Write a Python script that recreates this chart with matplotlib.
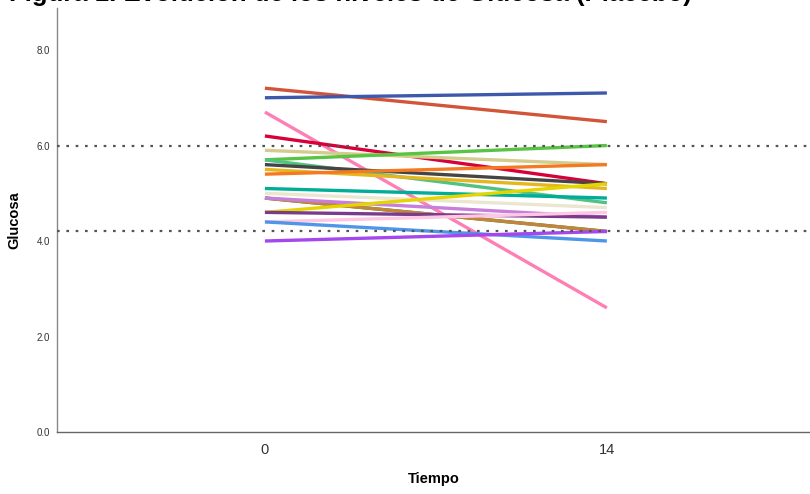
import matplotlib
matplotlib.use("Agg")
import matplotlib.pyplot as plt

plt.rcParams['font.family'] = ['Liberation Sans', 'DejaVu Sans']

tiempos = ["0", "14"]
glucosa_t0 = [7.2, 7.0, 6.7, 6.2, 5.9, 5.7, 5.7, 5.6, 5.5, 5.4,
              5.1, 5.0, 4.9, 4.9, 4.9, 4.6, 4.6, 4.4, 4.4, 4.0]
glucosa_t14 = [6.5, 7.1, 2.6, 5.2, 5.6, 6.0, 4.8, 5.2, 5.1, 5.6,
               4.9, 4.7, 4.2, 4.5, 4.2, 5.2, 4.5, 4.6, 4.0, 4.2]
colores = ["#d2553a", "#3e58ac", "#fe7fb4", "#d8003a", "#d4cc8c",
           "#58c443", "#52c184", "#454545", "#e6b620", "#f47a22",
           "#00ad98", "#ebe6cf", "#c4843c", "#c87fdc", "#2f8b2a",
           "#e4d400", "#7a3c8a", "#fec8e4", "#4f95e8", "#a447ee"]
referencias = [6.0, 4.2]
yticks = [0.0, 2.0, 4.0, 6.0, 8.0]

fig = plt.figure(figsize=(8.10, 4.94), dpi=100)
ax = fig.add_axes([57/810, 62/494, 1 - 57/810, (432 - 8)/494])

order = [14, 12, 0, 1, 2, 3, 4, 5, 6, 7, 8, 9, 10, 11, 13, 15, 16, 17, 18, 19]
for i in order:
    ax.plot([0, 1], [glucosa_t0[i], glucosa_t14[i]], color=colores[i],
            lw=2.4, solid_capstyle='butt', zorder=2)

for r in referencias:
    ax.axhline(r, color="#555555", lw=1.6, ls=(0, (1.2, 3.0)), zorder=3)

ax.set_xlim(-0.608, 1.594)
ax.set_ylim(0, 8.88)
ax.set_xticks([0, 1])
ax.set_xticklabels(tiempos, fontsize=10.5, color="#333333")
ax.set_yticks(yticks)
ax.set_yticklabels([f"{v:.1f}" for v in yticks], fontsize=7, color="#333333")
ax.tick_params(axis='both', length=0)
ax.tick_params(axis='x', pad=8)
ax.tick_params(axis='y', pad=5)

for s in ['top', 'right']:
    ax.spines[s].set_visible(False)
ax.spines['left'].set_color("#888888")
ax.spines['bottom'].set_color("#666666")
ax.spines['left'].set_linewidth(1.0)
ax.spines['bottom'].set_linewidth(1.0)

ax.set_xlabel("Tiempo", fontsize=10.5, fontweight='bold', labelpad=11)
ax.set_ylabel("Glucosa", fontsize=10.5, fontweight='bold', labelpad=11)

fig.text(692/810, 1 - 1/494, "Figura 1. Evolución de los niveles de Glucosa (Placebo)",
         ha='right', va='baseline', fontsize=18.5, fontweight='bold')

fig.savefig("out.png", dpi=100)
